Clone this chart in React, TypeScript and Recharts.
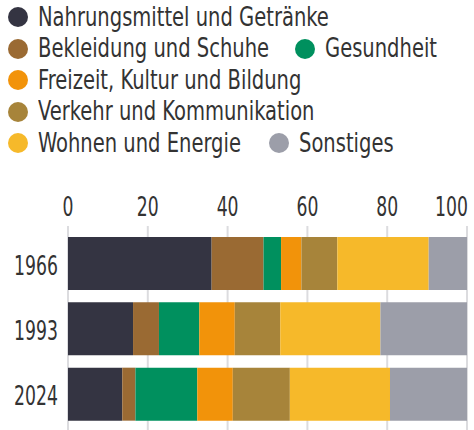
import React from 'react';
import { BarChart, Bar, XAxis, YAxis, CartesianGrid } from 'recharts';

const years = ['1966', '1993', '2024'];
const nahrung = [36.0, 16.3, 13.6];
const bekleidung = [13.0, 6.5, 3.3];
const gesundheit = [4.4, 10.1, 15.5];
const freizeit = [5.1, 8.9, 8.9];
const verkehr = [9.0, 11.4, 14.3];
const wohnen = [22.9, 25.1, 25.1];
const sonstiges = [9.6, 21.7, 19.3];
const xTicks = [0, 20, 40, 60, 80, 100];

const SERIES = [
  { key: 'nahrung', name: 'Nahrungsmittel und Getränke', color: '#343442', values: nahrung },
  { key: 'bekleidung', name: 'Bekleidung und Schuhe', color: '#9a6a33', values: bekleidung },
  { key: 'gesundheit', name: 'Gesundheit', color: '#00905e', values: gesundheit },
  { key: 'freizeit', name: 'Freizeit, Kultur und Bildung', color: '#f2930a', values: freizeit },
  { key: 'verkehr', name: 'Verkehr und Kommunikation', color: '#a7843a', values: verkehr },
  { key: 'wohnen', name: 'Wohnen und Energie', color: '#f6b92a', values: wohnen },
  { key: 'sonstiges', name: 'Sonstiges', color: '#9c9ea9', values: sonstiges },
];

// legend rows as in the original layout: [key, circle left x]
const LEGEND_ROWS: [string, number][][] = [
  [['nahrung', 8]],
  [['bekleidung', 8], ['gesundheit', 295]],
  [['freizeit', 8]],
  [['verkehr', 8]],
  [['wohnen', 8], ['sonstiges', 269]],
];

const FONT = '"DejaVu Sans Condensed", "DejaVu Sans", sans-serif';
const TEXT = '#333333';
const NUM_SCALE = 0.71;

const chartData = years.map((year, i) => {
  const row: any = { year };
  SERIES.forEach((s) => { row[s.key] = s.values[i]; });
  return row;
});

const TopTick = (props: any) => {
  const { x, y, payload } = props;
  const last = payload.value === 100;
  return (
    <g transform={`translate(${last ? x + 1 : x},${y - 2}) scale(${NUM_SCALE},1)`}>
      <text x={0} y={0} textAnchor={last ? 'end' : 'middle'} fill={TEXT} fontSize={27} fontFamily={FONT}>
        {payload.value}
      </text>
    </g>
  );
};

const YearTick = (props: any) => {
  const { x, y, payload } = props;
  return (
    <g transform={`translate(${x},${y + 11}) scale(${NUM_SCALE},1)`}>
      <text x={0} y={0} textAnchor="end" fill={TEXT} fontSize={27} fontFamily={FONT}>
        {payload.value}
      </text>
    </g>
  );
};

export default function App() {
  return (
    <div style={{ position: 'absolute', left: 0, top: 0, width: 474, height: 430, background: '#fff', fontFamily: FONT }}>
      {LEGEND_ROWS.map((row, r) =>
        row.map(([k, left]) => {
          const s = SERIES.find((x) => x.key === k)!;
          const cy = 17 + r * 31.5;
          return (
            <div key={k} style={{ position: 'absolute', left, top: cy - 15.75, height: 31.5, display: 'flex', alignItems: 'center' }}>
              <span style={{ width: 20, height: 20, borderRadius: 10, background: s.color, display: 'inline-block', flex: 'none' }} />
              <span
                style={{
                  marginLeft: 10,
                  fontSize: 26,
                  color: TEXT,
                  lineHeight: '31px',
                  whiteSpace: 'nowrap',
                  display: 'inline-block',
                  transform: 'scaleX(0.835)',
                  transformOrigin: 'left center',
                }}
              >
                {s.name}
              </span>
            </div>
          );
        })
      )}
      <div style={{ position: 'absolute', left: 0, top: 0 }}>
        <BarChart
          width={474}
          height={430}
          data={chartData}
          layout="vertical"
          margin={{ top: 196, right: 7, left: 8, bottom: 0 }}
          barSize={53}
        >
          <CartesianGrid horizontal={false} stroke="#dcdcdf" strokeWidth={2} />
          <XAxis
            type="number"
            orientation="top"
            domain={[0, 100]}
            ticks={xTicks}
            axisLine={false}
            tickLine={false}
            height={30}
            tick={<TopTick />}
            interval={0}
          />
          <YAxis
            type="category"
            dataKey="year"
            width={60}
            axisLine={false}
            tickLine={false}
            padding={{ top: 5, bottom: 3 }}
            tick={<YearTick />}
            tickMargin={4}
          />
          {SERIES.map((s) => (
            <Bar key={s.key} dataKey={s.key} name={s.name} stackId="a" fill={s.color} isAnimationActive={false} />
          ))}
        </BarChart>
      </div>
    </div>
  );
}
